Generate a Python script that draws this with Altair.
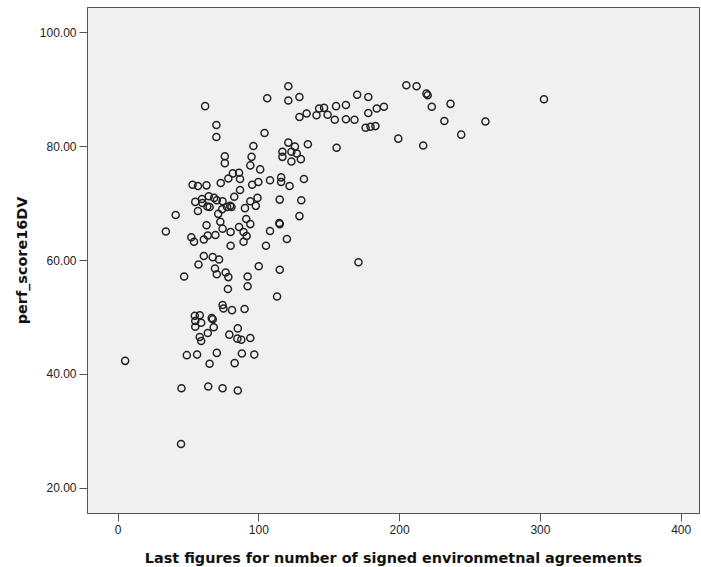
import altair as alt
import pandas as pd

agreements = [
    205.1, 212.4, 219.4, 220.3, 223.2, 236.5, 232.1, 261.3, 244.1, 199.4, 217.1, 302.9,
    121.3, 106.3, 121.3, 129.2, 170.2, 178.1, 189.2, 184.1, 178.1, 162.2, 155.2, 146.7,
    143.2, 134.3, 129.2, 141.3, 149.2, 154.3, 162.2, 168.3, 176.2, 179.7, 183.2, 155.6,
    171.1,
    62.2, 70.2, 70.2, 104.4, 96.5, 121.3, 126.0, 117.1, 127.3, 123.5, 117.1, 123.5,
    130.2, 135.2, 76.2, 76.2, 95.2, 94.3, 101.3, 81.9, 86.3, 78.7, 87.0, 73.3,
    100.0, 108.3, 116.2, 116.2, 122.2, 132.4, 95.6, 87.0, 53.3, 57.1, 63.2, 55.2,
    60.0, 64.8, 68.6, 70.5, 60.3, 63.8, 65.4, 57.1, 74.6, 82.9, 77.8, 80.0,
    80.9, 74.3, 71.5, 90.5, 94.3, 99.4, 98.2, 115.2, 130.5, 129.2, 41.3, 73.0,
    91.4, 94.3, 86.3, 114.9, 115.2, 63.2, 74.6, 80.3, 89.5, 91.7, 108.3, 34.3,
    52.4, 54.3, 61.3, 64.1, 69.5, 89.5, 120.3, 80.3, 105.4, 61.3, 57.5, 67.6,
    72.1, 69.2, 70.5, 76.8, 78.7, 100.3, 115.2, 47.3, 92.4, 92.4, 78.4, 113.3,
    74.6, 75.2, 81.3, 90.2, 54.9, 58.4, 66.9, 67.6, 55.2, 59.4, 55.2, 68.3,
    64.1, 85.4, 79.4, 85.1, 87.9, 94.3, 58.4, 59.4, 49.2, 56.5, 70.5, 88.3,
    97.1, 65.4, 83.2, 5.4, 45.4, 64.4, 74.6, 85.4, 45.1,
]
perf_score = [
    90.67, 90.5, 89.2, 88.9, 86.9, 87.4, 84.4, 84.3, 82.0, 81.3, 80.1, 88.2,
    90.5, 88.4, 88.0, 88.6, 89.0, 88.6, 86.9, 86.6, 85.8, 87.2, 87.0, 86.7,
    86.6, 85.7, 85.1, 85.4, 85.5, 84.6, 84.7, 84.6, 83.2, 83.4, 83.5, 79.7,
    59.6,
    87.0, 83.7, 81.6, 82.3, 80.0, 80.6, 79.9, 79.0, 78.7, 79.0, 78.1, 77.3,
    77.7, 80.3, 78.2, 77.0, 78.1, 76.6, 75.9, 75.2, 75.3, 74.3, 74.2, 73.5,
    73.7, 74.0, 74.5, 73.7, 73.0, 74.2, 73.2, 72.3, 73.2, 73.0, 73.1, 70.2,
    70.7, 71.2, 70.9, 70.5, 70.0, 69.4, 69.3, 68.6, 70.3, 71.1, 69.3, 69.5,
    69.3, 68.9, 68.1, 69.1, 70.3, 70.9, 69.5, 70.6, 70.5, 67.7, 67.9, 66.7,
    67.2, 66.3, 65.8, 66.5, 66.3, 66.1, 65.5, 64.9, 64.9, 64.2, 65.1, 65.0,
    64.0, 63.2, 63.6, 64.3, 64.4, 63.2, 63.7, 62.5, 62.5, 60.7, 59.2, 60.5,
    60.1, 58.5, 57.5, 57.8, 57.0, 58.9, 58.3, 57.1, 57.1, 55.4, 54.9, 53.6,
    52.1, 51.5, 51.2, 51.4, 50.2, 50.3, 49.8, 49.6, 49.3, 49.0, 48.3, 48.2,
    47.2, 48.0, 46.9, 46.2, 46.0, 46.3, 46.5, 45.8, 43.3, 43.4, 43.7, 43.6,
    43.4, 41.8, 41.9, 42.3, 37.5, 37.8, 37.5, 37.1, 27.7,
]

x_ticks = [0, 100, 200, 300, 400]
y_ticks = [20, 40, 60, 80, 100]

df = pd.DataFrame({"agreements": agreements, "perf": perf_score})

label_font = "Liberation Sans, Arial"
title_font = "DejaVu Sans, Verdana"

chart = (
    alt.Chart(df)
    .mark_point(shape="circle", filled=False, size=50, stroke="#222222", strokeWidth=1.5, opacity=1)
    .encode(
        x=alt.X(
            "agreements:Q",
            scale=alt.Scale(domain=[-21.7, 413], nice=False, zero=False),
            axis=alt.Axis(
                values=x_ticks, format="d", grid=False,
                title="Last figures for number of signed environmetnal agreements",
                titleY=45, titleBaseline="middle",
                labelPadding=3, tickSize=8,
            ),
        ),
        y=alt.Y(
            "perf:Q",
            scale=alt.Scale(domain=[15.6, 104.4], nice=False, zero=False),
            axis=alt.Axis(
                values=y_ticks, format=".2f", grid=False,
                title="perf_score16DV",
                titleX=-65, titleBaseline="middle", titleAngle=-90,
                labelPadding=3, tickSize=8,
            ),
        ),
    )
    .properties(
        width=612, height=506,
        background="white",
        autosize=alt.AutoSizeParams(type="none"),
        padding={"left": 87, "top": 7, "right": 2, "bottom": 54},
    )
    .configure_view(fill="#f0f0f0", stroke="#555555", strokeWidth=1)
    .configure_axis(
        domainColor="#555555", tickColor="#555555", labelColor="#222222",
        labelFont=label_font, labelFontSize=12,
        titleFont=title_font, titleFontSize=14.4, titleFontWeight="bold", titleColor="#111111",
    )
)

chart.save("out.html", embed_options={"renderer": "svg", "actions": False})
